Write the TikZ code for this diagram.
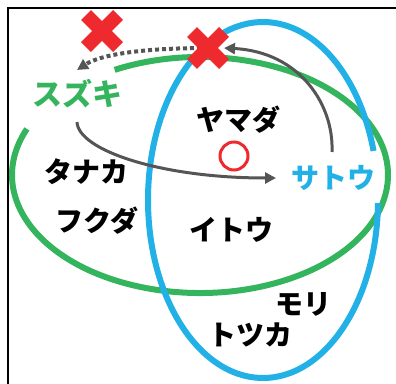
\documentclass[tikz,border=0pt]{standalone}
\usepackage{fontspec}
\newfontfamily\jp{Noto Sans CJK JP}
\usetikzlibrary{arrows.meta}
\definecolor{vgreen}{HTML}{35B45E}
\definecolor{vblue}{HTML}{22B1E6}
\definecolor{vred}{HTML}{EE2A2F}
\definecolor{vgray}{HTML}{555555}
\tikzset{
  lbl/.style={font=\jp\bfseries\fontsize{28}{28}\selectfont, inner sep=0pt},
  cross/.style={vred, line width=14pt},
  arr/.style={vgray, line width=3pt, -{Triangle[length=11pt,width=11pt]}},
}
\begin{document}
\begin{tikzpicture}[x=1pt,y=-1pt]
\useasboundingbox (0,0) rectangle (396,383);
% frame
\draw[line width=1.5pt] (8,384) -- (8,8) -- (397,8);
% green ellipse with gap
\draw[vgreen, line width=6pt] (200,175) ++(243:188 and 118) arc[start angle=243, end angle=563, x radius=188, y radius=118];
% blue ellipse with gap
\draw[vblue, line width=6pt] (263,200) ++(1:115 and 178) arc[start angle=1, end angle=344, x radius=115, y radius=178];
% labels
\node[lbl, text=vgreen, font=\jp\bfseries\fontsize{30}{30}\selectfont] (suzuki) at (77,94) {スズキ};
\node[lbl] (yamada) at (238,120) {ヤマダ};
\node[lbl, text=vblue] (sato) at (333,178) {サトウ};
\node[lbl] (tanaka) at (86,172) {タナカ};
\node[lbl] (fukuda) at (97,221) {フクダ};
\node[lbl] (ito) at (231,230) {イトウ};
\node[lbl] (mori) at (303,304) {モリ};
\node[lbl] (totsuka) at (250,335) {トツカ};
% red circle
\node[draw=vred, line width=3pt, circle, minimum size=28pt, inner sep=0pt] (maru) at (234,156) {};
% crosses
\coordinate (x1) at (102,31);
\coordinate (x2) at (208,48);
% arrows
\coordinate (dotend) at (77,70);
\draw[vgray, line width=4pt, dash pattern=on 4pt off 3pt, -{Triangle[length=11pt,width=11pt]}] (x2) .. controls (140,48) and (100,55) .. (dotend);
\coordinate (satotop) at (332,152);
\coordinate (suzbot) at (77,122);
\draw[arr] (satotop) .. controls (334,105) and (300,52) .. (224,48);
\draw[arr] (suzbot) .. controls (78,150) and (160,178) .. (276,178);
\foreach \c in {x1,x2}{
  \draw[cross] (\c) ++(-16,-16) -- ++(32,32);
  \draw[cross] (\c) ++(-16,16) -- ++(32,-32);
}
\end{tikzpicture}
\end{document}
